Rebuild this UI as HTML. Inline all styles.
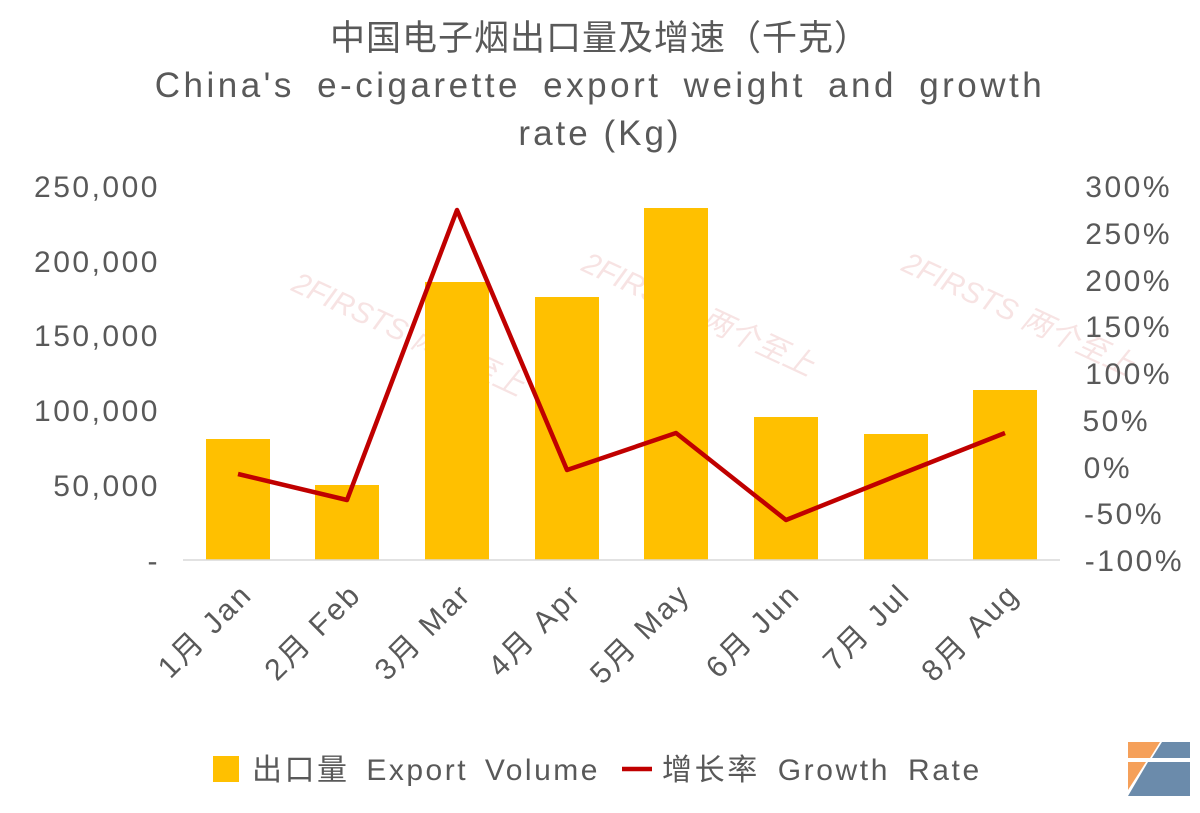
<!DOCTYPE html>
<html><head><meta charset="utf-8"><style>
html,body{margin:0;padding:0;background:#fff;}
svg text{font-family:"Liberation Sans","Noto Sans CJK SC",sans-serif;}
.t{fill:#595959;}
</style></head><body>
<svg width="1200" height="808" viewBox="0 0 1200 808" xmlns="http://www.w3.org/2000/svg">
<rect width="1200" height="808" fill="#fff"/>
<text class="t" x="600" y="50" font-size="35" text-anchor="middle" letter-spacing="1">中国电子烟出口量及增速（千克）</text>
<text class="t" x="600" y="97" font-size="35" text-anchor="middle" letter-spacing="3.5" word-spacing="9">China's e-cigarette export weight and growth</text>
<text class="t" x="600" y="145" font-size="35" text-anchor="middle" letter-spacing="3">rate (Kg)</text>
<g style="fill:#f0c8c8" opacity="0.5" font-size="30" font-style="italic">
<text x="290" y="290" transform="rotate(25 290 290)">2FIRSTS 两个至上</text>
<text x="580" y="270" transform="rotate(25 580 270)">2FIRSTS 两个至上</text>
<text x="900" y="270" transform="rotate(25 900 270)">2FIRSTS 两个至上</text>
</g>
<g font-size="30" text-anchor="end" letter-spacing="2.5">
<text class="t" x="160" y="197">250,000</text>
<text class="t" x="160" y="272">200,000</text>
<text class="t" x="160" y="346">150,000</text>
<text class="t" x="160" y="421">100,000</text>
<text class="t" x="160" y="496">50,000</text>
<text class="t" x="160" y="571">-</text>
</g>
<g font-size="30" text-anchor="end" letter-spacing="2.5">
<text class="t" x="1172" y="197">300%</text>
<text class="t" x="1172" y="244">250%</text>
<text class="t" x="1172" y="291">200%</text>
<text class="t" x="1172" y="337">150%</text>
<text class="t" x="1172" y="384">100%</text>
<text class="t" x="1150" y="431">50%</text>
<text class="t" x="1132" y="478">0%</text>
<text class="t" x="1164" y="524">-50%</text>
<text class="t" x="1184" y="571">-100%</text>
</g>
<g fill="#ffc000">
<rect x="206" y="439" width="64" height="121"/>
<rect x="315" y="485" width="64" height="75"/>
<rect x="425" y="282" width="64" height="278"/>
<rect x="535" y="297" width="64" height="263"/>
<rect x="644" y="208" width="64" height="352"/>
<rect x="754" y="417" width="64" height="143"/>
<rect x="864" y="434" width="64" height="126"/>
<rect x="973" y="390" width="64" height="170"/>
</g>
<line x1="183" y1="560" x2="1060" y2="560" stroke="#d9d9d9" stroke-width="1.5"/>
<polyline points="238,474 347,500 457,210 567,470 676,433 786,520 896,476 1005,433" fill="none" stroke="#c00000" stroke-width="4.5" stroke-linejoin="round"/>
<g font-size="30" text-anchor="end" letter-spacing="2.5">
<text class="t" transform="translate(254,596) rotate(-45)">1月  Jan</text>
<text class="t" transform="translate(363,596) rotate(-45)">2月  Feb</text>
<text class="t" transform="translate(473,596) rotate(-45)">3月  Mar</text>
<text class="t" transform="translate(583,596) rotate(-45)">4月  Apr</text>
<text class="t" transform="translate(692,596) rotate(-45)">5月  May</text>
<text class="t" transform="translate(802,596) rotate(-45)">6月  Jun</text>
<text class="t" transform="translate(912,596) rotate(-45)">7月  Jul</text>
<text class="t" transform="translate(1021,596) rotate(-45)">8月  Aug</text>
</g>
<rect x="213" y="756" width="26" height="26" fill="#ffc000"/>
<text class="t" x="252" y="780" font-size="30" letter-spacing="2.5" word-spacing="6">出口量 Export Volume</text>
<line x1="622" y1="769" x2="652" y2="769" stroke="#c00000" stroke-width="4.5"/>
<text class="t" x="662" y="780" font-size="30" letter-spacing="2.6" word-spacing="7">增长率 Growth Rate</text>
<polygon points="1128,742 1160,742 1150,758 1128,758" fill="#f5a05a"/>
<polygon points="1162,742 1190,742 1190,758 1152,758" fill="#6b8bab"/>
<polygon points="1148,762 1190,762 1190,796 1128,796" fill="#6b8bab"/>
<polygon points="1128,762 1146,762 1128,790" fill="#f5a05a"/>
</svg>
</body></html>
